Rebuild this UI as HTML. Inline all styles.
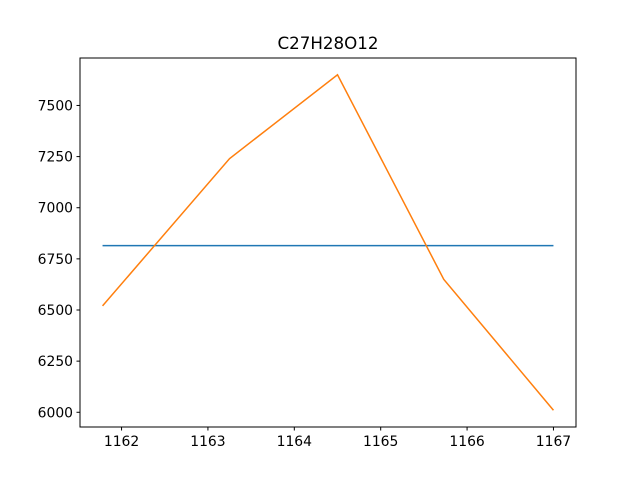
<!DOCTYPE html>
<html><head><meta charset="utf-8"><style>body{margin:0;background:#fff}svg{display:block;font-family:"DejaVu Sans","Liberation Sans",sans-serif}</style></head>
<body>
<svg width="640" height="480">
<text x="328" y="49" font-size="16.7" text-anchor="middle">C27H28O12</text>
<g id="xt"></g>
<g id="yt"></g>
<g id="lines"></g>
<rect x="80" y="58" width="496" height="369" fill="none" stroke="#000" stroke-width="1"/>
</svg>
<script>
const xVals=[1161.78,1163.25,1164.5,1165.73,1167];
const seriesOrange=[6520,7240,7650,6650,6010];
const seriesBlue=[6815,6815,6815,6815,6815];
const xTicks=[1162,1163,1164,1165,1166,1167];
const yTicks=[6000,6250,6500,6750,7000,7250,7500];
const X0=1161.519,X1=1167.261,Y0=5928,Y1=7732;
const L=80,R=576,T=58,B=427;
const sx=v=>L+(v-X0)/(X1-X0)*(R-L);
const sy=v=>B-(v-Y0)/(Y1-Y0)*(B-T);
const NS="http://www.w3.org/2000/svg";
function mk(t,a,p){const e=document.createElementNS(NS,t);for(const k in a)e.setAttribute(k,a[k]);p.appendChild(e);return e;}
const xt=document.getElementById('xt'),yt=document.getElementById('yt'),lg=document.getElementById('lines');
xTicks.forEach(v=>{const x=sx(v);
const l=mk('line',{x1:x,x2:x,y1:B,y2:B+3.5,stroke:'#000'},xt);


const t=mk('text',{x:x,y:B+19,'font-size':13.9,'text-anchor':'middle'},xt);t.textContent=v;

});
yTicks.forEach(v=>{const y=sy(v);
const l=mk('line',{x1:L-3.5,x2:L,y1:y,y2:y,stroke:'#000'},yt);


const t=mk('text',{x:L-7,y:y+5,'font-size':13.9,'text-anchor':'end'},yt);t.textContent=v;

});
function line(vals,color,name){const p=mk('polyline',{points:vals.map((v,i)=>sx(xVals[i])+','+sy(v)).join(' '),fill:'none',stroke:color,'stroke-width':1.5},lg);

}
line(seriesBlue,'#1f77b4','series-blue-line');
line(seriesOrange,'#ff7f0e','series-orange-line');
</script>
</body></html>
